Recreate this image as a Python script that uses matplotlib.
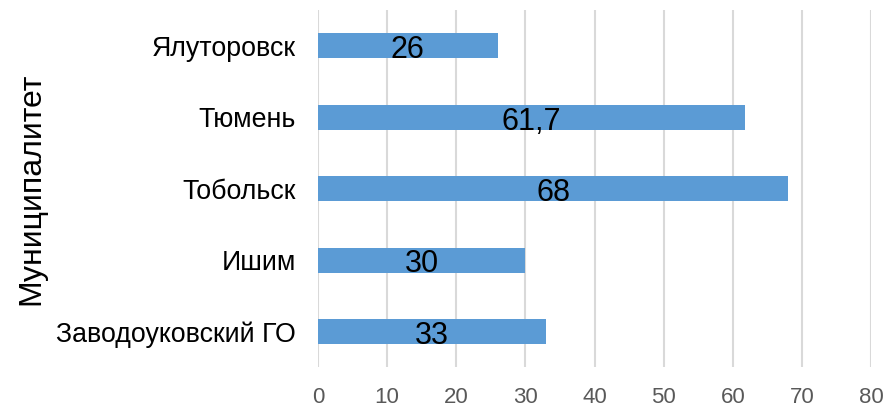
import matplotlib
matplotlib.use("Agg")
import matplotlib.pyplot as plt

# data (top to bottom as shown)
cities = ['Ялуторовск', 'Тюмень', 'Тобольск', 'Ишим', 'Заводоуковский ГО']
values = [26, 61.7, 68, 30, 33]
value_labels = ['26', '61,7', '68', '30', '33']
x_ticks = [0, 10, 20, 30, 40, 50, 60, 70, 80]

plt.rcParams['font.family'] = ['Liberation Sans', 'DejaVu Sans']

fig = plt.figure(figsize=(8.87, 4.08), dpi=100)
ax = fig.add_axes([0.3585, 0.10, 0.6235, 0.875])

pos = list(range(len(cities)))[::-1]
ax.barh(pos, values, height=0.35, color='#5B9BD5', zorder=3)

# labels in the middle of each bar
for p, v, lab in zip(pos, values, value_labels):
    ax.text(v / 2, p - 0.06, lab, ha='center', va='center', fontsize=22, color='black', zorder=4)

ax.set_xlim(0, 80)
ax.set_ylim(-0.5, 4.5)
ax.set_xticks(x_ticks)
ax.set_yticks(pos)
ax.set_yticklabels(cities, fontsize=19.3)
ax.tick_params(axis='x', labelsize=16, labelcolor='#595959', length=0, pad=14)
ax.tick_params(axis='y', length=0, pad=16)
ax.grid(axis='x', color='#D9D9D9', linewidth=1.5, zorder=0)
for s in ax.spines.values():
    s.set_visible(False)
ax.set_ylabel('Муниципалитет', fontsize=23, labelpad=7)

fig.savefig('out.png', dpi=100)
